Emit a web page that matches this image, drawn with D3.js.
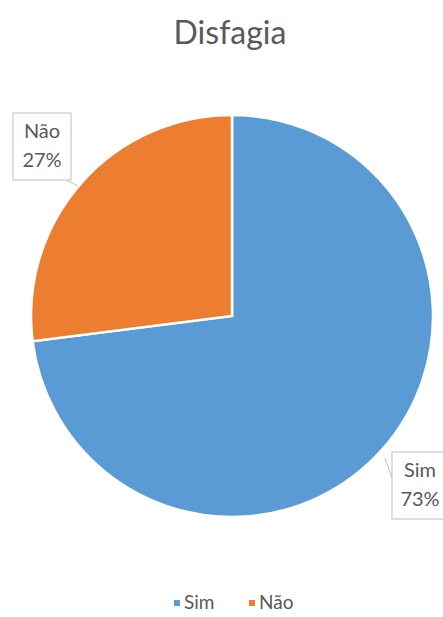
<!DOCTYPE html>
<html><head><meta charset="utf-8">
<script src="https://cdn.jsdelivr.net/npm/d3@7/dist/d3.min.js"></script>
<style>body{margin:0;background:#fff;}svg{display:block;}</style>
</head><body>
<svg id="c" width="443" height="617"></svg>
<script>
const categories = ["Sim", "Não"];
const values = [73, 27];
const labels = ["73%", "27%"];
const colors = ["#5B9BD5", "#ED7D31"];
const title = "Disfagia";

const svg = d3.select("#c");
const font = "Lato, 'Open Sans', sans-serif";
const textColor = "#595959";
const cx = 232, cy = 316, r = 201;

svg.append("text").attr("x", 230).attr("y", 44).attr("text-anchor", "middle")
  .attr("font-family", font).attr("font-size", 32).attr("fill", textColor).text(title);

const pie = d3.pie().sort(null).value(d => d)(values);
const arc = d3.arc().innerRadius(0).outerRadius(r);
const g = svg.append("g").attr("transform", `translate(${cx},${cy})`);
g.selectAll("path").data(pie).enter().append("path")
  .attr("d", arc).attr("fill", (d, i) => colors[i])
  .attr("stroke", "#fff").attr("stroke-width", 2.5);

// data label boxes (callouts)
const boxes = [
  {i: 0, x: 392, y: 452, w: 60, h: 67, tx: 420, lx1: 385, ly1: 458, lx2: 392, ly2: 478},
  {i: 1, x: 13, y: 113, w: 58, h: 67, tx: 42, lx1: 78, ly1: 186, lx2: 66, ly2: 180}
];
boxes.forEach(b => {
  svg.append("line").attr("x1", b.lx1).attr("y1", b.ly1).attr("x2", b.lx2).attr("y2", b.ly2)
    .attr("stroke", "#bfbfbf").attr("stroke-width", 1);
  svg.append("rect").attr("x", b.x).attr("y", b.y).attr("width", b.w).attr("height", b.h)
    .attr("fill", "#fff").attr("stroke", "#bfbfbf").attr("stroke-width", 1);
  svg.append("text").attr("x", b.tx).attr("y", b.y + 25).attr("text-anchor", "middle")
    .attr("font-family", font).attr("font-size", 20).attr("fill", textColor).text(categories[b.i]);
  svg.append("text").attr("x", b.tx).attr("y", b.y + 54).attr("text-anchor", "middle")
    .attr("font-family", font).attr("font-size", 20).attr("fill", textColor).text(labels[b.i]);
});

// legend
const legendX = [174, 249];
categories.forEach((c, i) => {
  svg.append("rect").attr("x", legendX[i]).attr("y", 600).attr("width", 6).attr("height", 6).attr("fill", colors[i]);
  svg.append("text").attr("x", legendX[i] + 10).attr("y", 609).attr("font-family", font)
    .attr("font-size", 19).attr("fill", textColor).text(c);
});
</script>
</body></html>
